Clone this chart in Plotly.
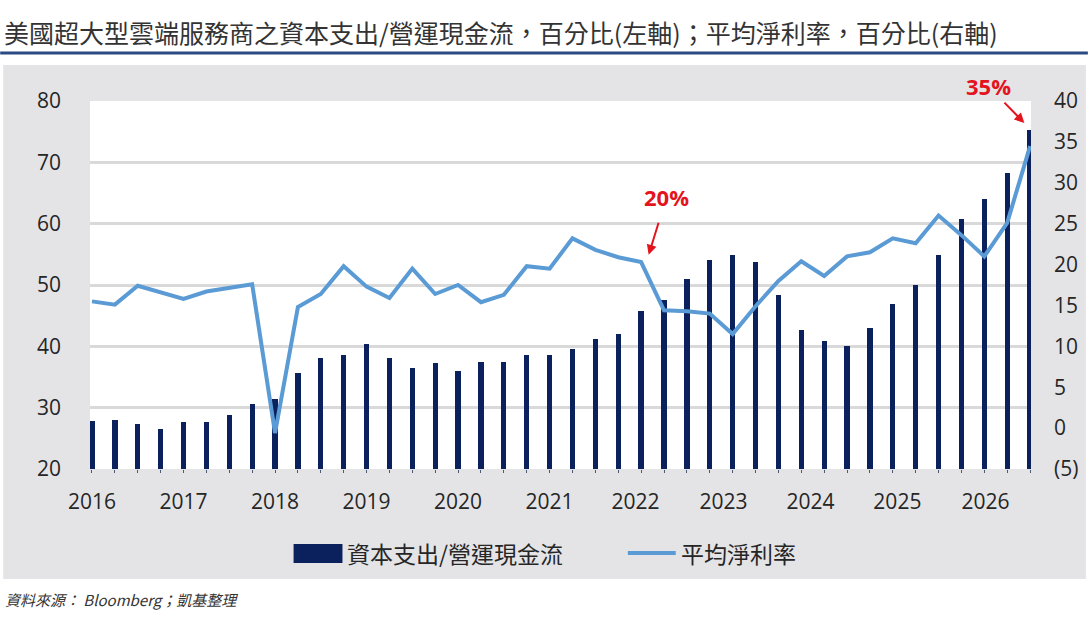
import plotly.graph_objects as go

# ---------------- data ----------------
capex_to_ocf = [27.9, 28.0, 27.3, 26.5, 27.7, 27.6, 28.8, 30.6, 31.4, 35.7,
                38.1, 38.6, 40.4, 38.1, 36.4, 37.3, 35.9, 37.5, 37.5, 38.6,
                38.6, 39.5, 41.2, 42.0, 45.7, 47.5, 50.9, 54.0, 54.9, 53.8,
                48.3, 42.7, 40.9, 40.1, 43.0, 46.9, 50.0, 54.9, 60.8, 64.0,
                68.3, 75.3]
net_margin = [15.5, 15.1, 17.4, 16.6, 15.8, 16.7, 17.2, 17.6, -0.6, 14.8,
              16.4, 19.8, 17.3, 15.9, 19.5, 16.4, 17.5, 15.4, 16.3, 19.8,
              19.5, 23.2, 21.8, 20.9, 20.3, 14.4, 14.3, 14.0, 11.5, 14.9,
              18.0, 20.4, 18.6, 21.0, 21.5, 23.2, 22.6, 26.0, 23.6, 21.0,
              25.1, 34.5]
quarter_index = list(range(len(capex_to_ocf)))
year_labels = ["2016", "2017", "2018", "2019", "2020", "2021",
               "2022", "2023", "2024", "2025", "2026"]
year_label_pos = [0, 4, 8, 12, 16, 20, 23.75, 27.6, 31.4, 35.2, 39.05]
left_ticks = [20, 30, 40, 50, 60, 70, 80]
right_ticks = [-5, 0, 5, 10, 15, 20, 25, 30, 35, 40]
right_tick_text = ["(5)", "0", "5", "10", "15", "20", "25", "30", "35", "40"]
bar_name = "資本支出/營運現金流"
line_name = "平均淨利率"
title_text = "美國超大型雲端服務商之資本支出/營運現金流，百分比(左軸)；平均淨利率，百分比(右軸)"
source_text = "資料來源： Bloomberg；凱基整理"

# ---------------- layout geometry ----------------
W, H = 1090, 633
L, R, T, B = 90, 57, 101, 164
PW, PH = W - L - R, H - T - B


def px(xp):
    return (xp - L) / PW


def py(yp):
    return (H - B - yp) / PH


BAR_C = "#0b215e"
LINE_C = "#5b9bd5"
PANEL_C = "#e4e4e6"
TXT_C = "#262626"
RED = "#e3141d"
NUM_FONT = "Open Sans, Noto Sans CJK TC, sans-serif"
CJK_FONT = "Noto Sans CJK TC, sans-serif"

fig = go.Figure()
fig.add_trace(go.Bar(x=quarter_index, y=capex_to_ocf, name=bar_name,
                     marker=dict(color=BAR_C, line=dict(width=0)),
                     width=0.23, yaxis="y", showlegend=False))
fig.add_trace(go.Scatter(x=quarter_index, y=net_margin, name=line_name,
                         mode="lines", line=dict(color=LINE_C, width=4),
                         yaxis="y2", showlegend=False, cliponaxis=False))

shapes = [
    # gray panel
    dict(type="rect", xref="paper", yref="paper", x0=px(3), x1=px(1088),
         y0=py(579), y1=py(65), fillcolor=PANEL_C, line=dict(width=0),
         layer="below"),
    # white plot area
    dict(type="rect", xref="paper", yref="paper", x0=0, x1=1, y0=0, y1=1,
         fillcolor="white", line=dict(width=0), layer="below"),
    # title underline
    dict(type="line", xref="paper", yref="paper", x0=px(0), x1=px(1090),
         y0=py(53), y1=py(53), line=dict(color="#2b4a83", width=3)),
    # legend: bar box
    dict(type="rect", xref="paper", yref="paper", x0=px(294), x1=px(343),
         y0=py(563), y1=py(544), fillcolor=BAR_C, line=dict(width=0)),
    # legend: line sample
    dict(type="line", xref="paper", yref="paper", x0=px(629), x1=px(677),
         y0=py(553), y1=py(553), line=dict(color=LINE_C, width=4)),
]

annotations = [
    dict(text=title_text, xref="paper", yref="paper", x=px(2), y=py(32),
         xanchor="left", yanchor="middle", showarrow=False,
         font=dict(family=CJK_FONT, size=25, color="#333333")),
    dict(text=bar_name, xref="paper", yref="paper", x=px(346), y=py(553),
         xanchor="left", yanchor="middle", showarrow=False,
         font=dict(family=CJK_FONT, size=23, color=TXT_C)),
    dict(text=line_name, xref="paper", yref="paper", x=px(680), y=py(553),
         xanchor="left", yanchor="middle", showarrow=False,
         font=dict(family=CJK_FONT, size=23, color=TXT_C)),
    dict(text="<i>" + source_text + "</i>", xref="paper", yref="paper",
         x=px(3), y=py(599), xanchor="left", yanchor="middle",
         showarrow=False, font=dict(family=CJK_FONT, size=15, color="#333333")),
    # 20% callout
    dict(text="<b>20%</b>", xref="x", yref="y2",
         x=24.33, y=21.2, ax=18, ay=-58, showarrow=True,
         arrowhead=2, arrowsize=1, arrowwidth=2, arrowcolor=RED,
         startstandoff=10, font=dict(family=NUM_FONT, size=22, color=RED)),
    # 35% callout
    dict(text="<b>35%</b>", xref="x", yref="y2",
         x=40.75, y=37.3, ax=-36, ay=-37, showarrow=True,
         arrowhead=2, arrowsize=1, arrowwidth=2, arrowcolor=RED,
         startstandoff=0, font=dict(family=NUM_FONT, size=22, color=RED)),
]

fig.update_layout(
    width=W, height=H,
    margin=dict(l=L, r=R, t=T, b=B, pad=0),
    paper_bgcolor="white", plot_bgcolor="white",
    shapes=shapes, annotations=annotations,
    bargap=0,
    xaxis=dict(range=[-0.087, 41.04], tickmode="array",
               tickvals=year_label_pos, ticktext=year_labels,
               showgrid=False, zeroline=False, showline=False,
               ticks="outside", ticklen=0, tickcolor="rgba(0,0,0,0)",
               ticklabelstandoff=14,
               tickfont=dict(family=NUM_FONT, size=21, color=TXT_C),
               minor=dict(tickmode="linear", tick0=0, dtick=1,
                          ticks="outside", ticklen=3, tickwidth=1,
                          tickcolor="#4a5b7a", showgrid=False)),
    yaxis=dict(range=[20, 80], tickmode="array", tickvals=left_ticks,
               showgrid=True, gridcolor="#d9d9d9", gridwidth=3,
               zeroline=False, showline=False, ticks="",
               ticklabelstandoff=28,
               tickfont=dict(family=NUM_FONT, size=21, color=TXT_C)),
    yaxis2=dict(range=[-5, 40], overlaying="y", side="right",
                tickmode="array", tickvals=right_ticks,
                ticktext=right_tick_text, showgrid=False, zeroline=False,
                showline=False, ticks="", ticklabelstandoff=22,
                tickfont=dict(family=NUM_FONT, size=21, color=TXT_C)),
)

fig.write_html("out.html")
